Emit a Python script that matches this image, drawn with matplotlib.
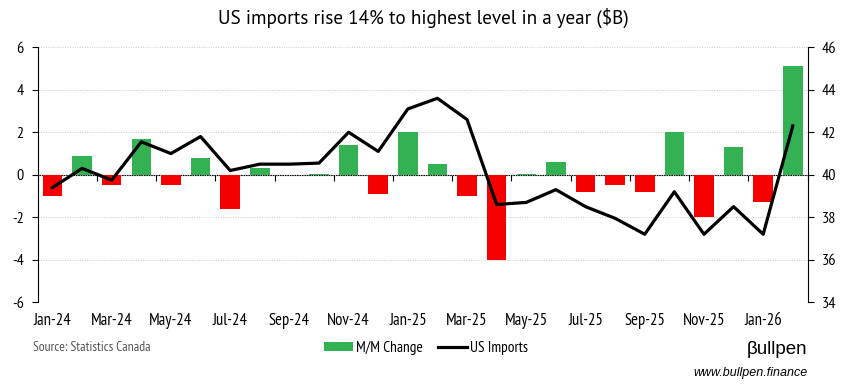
import matplotlib
matplotlib.use("Agg")
import matplotlib.pyplot as plt
import numpy as np
from matplotlib.patches import Patch
from matplotlib.lines import Line2D

plt.rcParams['font.family'] = ['PT Sans Narrow', 'DejaVu Sans']
plt.rcParams['axes.unicode_minus'] = False

months = ['Jan-24', 'Feb-24', 'Mar-24', 'Apr-24', 'May-24', 'Jun-24', 'Jul-24',
          'Aug-24', 'Sep-24', 'Oct-24', 'Nov-24', 'Dec-24', 'Jan-25', 'Feb-25',
          'Mar-25', 'Apr-25', 'May-25', 'Jun-25', 'Jul-25', 'Aug-25', 'Sep-25',
          'Oct-25', 'Nov-25', 'Dec-25', 'Jan-26', 'Feb-26']
mm_change = [-1.0, 0.9, -0.5, 1.7, -0.5, 0.8, -1.6, 0.3, 0.0, 0.05, 1.4, -0.9, 2.0,
             0.5, -1.0, -4.0, 0.05, 0.6, -0.8, -0.5, -0.8, 2.0, -2.0, 1.3, -1.3, 5.1]
us_imports = [39.4, 40.3, 39.75, 41.55, 41.0, 41.8, 40.2, 40.5, 40.5, 40.55, 42.0,
              41.1, 43.1, 43.6, 42.6, 38.6, 38.7, 39.3, 38.5, 37.95, 37.2, 39.2,
              37.2, 38.5, 37.2, 42.3]

GREEN = '#34b152'
RED = '#f40000'

x = np.arange(len(months))
fig = plt.figure(figsize=(8.51, 3.91), dpi=100)
ax = fig.add_axes([0.0443, 0.227, 0.9047, 0.652])

colors = [GREEN if v >= 0 else RED for v in mm_change]
ax.bar(x, mm_change, width=0.66, color=colors, zorder=2)
ax.set_xlim(-0.5, len(months) - 0.5)
ax.set_ylim(-6, 6)
ax.set_yticks(np.arange(-6, 7, 2))
ax.grid(axis='y', color='#c8c8c8', linestyle=(0, (1, 1.5)), linewidth=0.7, zorder=0)
ax.set_axisbelow(True)
ax.set_xticks(x[::2])
ax.set_xticklabels(months[::2])
ax.tick_params(axis='x', length=0, pad=8, labelsize=12)
ax.tick_params(axis='y', length=4, width=0.8, labelsize=11.5, pad=6)
for s in ['top', 'right', 'bottom']:
    ax.spines[s].set_visible(False)
ax.spines['left'].set_linewidth(0.8)

# zero line with tick marks between every second month
zero = ax.secondary_xaxis(0.5)
bounds = np.arange(-0.5, len(months), 2)
zero.set_xticks(bounds, labels=[''] * len(bounds))
zero.tick_params(length=4, width=0.8, direction='in')
zero.spines['bottom'].set_linewidth(1.0)

ax2 = ax.twinx()
ax2.plot(x, us_imports, color='black', linewidth=2.3, zorder=3)
ax2.set_ylim(34, 46)
ax2.set_yticks(np.arange(34, 47, 2))
ax2.tick_params(axis='y', length=4, width=0.8, labelsize=11.5, pad=6)
for s in ['top', 'left', 'bottom']:
    ax2.spines[s].set_visible(False)
ax2.spines['right'].set_linewidth(0.8)

fig.text(0.497, 0.955, 'US imports rise 14% to highest level in a year ($B)',
         ha='center', va='center', fontsize=13.8, family=['PT Sans', 'DejaVu Sans'])

handles = [Patch(facecolor=GREEN), Line2D([0], [0], color='black', linewidth=2.3)]
fig.legend(handles, ['M/M Change', 'US Imports'], loc='center',
           bbox_to_anchor=(0.501, 0.11), ncol=2, frameon=False, fontsize=11,
           handlelength=1.9, handleheight=0.55, handletextpad=0.2, columnspacing=1.0)

fig.text(0.039, 0.11, 'Source: Statistics Canada', fontsize=9.8, style='italic',
         color='#555555', ha='left', va='center')
fig.text(0.949, 0.105, 'βullpen', fontsize=13.5, ha='right', va='center',
         family=['Liberation Sans', 'DejaVu Sans'])
fig.text(0.949, 0.046, 'www.bullpen.finance', fontsize=9, style='italic',
         ha='right', va='center', family=['Liberation Sans', 'DejaVu Sans'])

fig.savefig('out.png', dpi=100)
